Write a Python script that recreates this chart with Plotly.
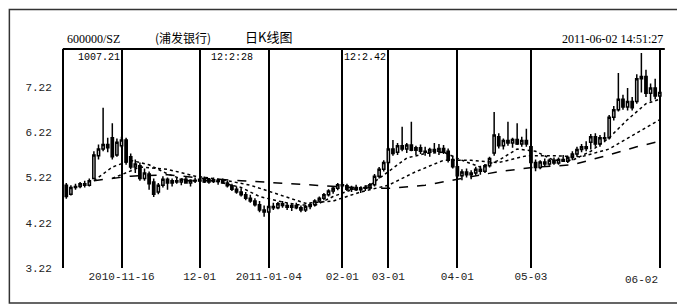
import plotly.graph_objects as go

# ---------------- data ----------------
idx = list(range(130))
opens = [5.05,4.85,5.00,5.02,5.08,5.05,5.20,5.70,5.85,5.95,
         6.10,5.72,5.92,6.05,5.68,5.45,5.48,5.20,5.30,5.12,
         4.90,5.05,5.18,5.10,5.15,5.12,5.18,5.10,5.16,5.14,
         5.18,5.12,5.17,5.13,5.16,5.10,5.04,4.96,4.90,4.84,
         4.76,4.70,4.62,4.50,4.46,4.58,4.55,4.64,4.60,4.56,
         4.60,4.55,4.50,4.58,4.62,4.70,4.76,4.84,4.92,4.98,
         5.06,5.04,4.96,5.00,4.95,4.98,5.00,5.06,5.25,5.40,
         5.55,5.85,5.78,5.92,5.85,5.94,5.82,5.88,5.80,5.78,
         5.84,5.80,5.86,5.80,5.62,5.46,5.26,5.34,5.28,5.32,
         5.40,5.36,5.48,5.76,6.12,5.92,6.04,5.98,6.06,5.96,
         6.04,5.90,5.55,5.44,5.56,5.52,5.60,5.54,5.62,5.58,
         5.66,5.74,5.84,5.90,6.00,6.12,5.96,6.10,6.10,6.55,
         6.72,6.95,6.78,6.90,6.90,7.45,7.45,7.08,7.20,7.02]
highs = [5.10,5.05,5.08,5.12,5.15,5.20,5.80,5.95,6.76,6.10,
         6.42,6.08,6.12,6.10,5.75,5.62,5.55,5.42,5.35,5.20,
         5.10,5.25,5.22,5.20,5.22,5.20,5.24,5.18,5.22,5.20,
         5.24,5.20,5.22,5.20,5.20,5.15,5.08,5.02,4.98,4.90,
         4.84,4.76,4.70,4.60,4.62,4.66,4.68,4.70,4.66,4.64,
         4.66,4.60,4.62,4.66,4.74,4.80,4.88,4.96,5.02,5.10,
         5.12,5.08,5.04,5.06,5.02,5.05,5.10,5.30,5.45,5.60,
         5.90,6.05,5.98,6.34,5.98,6.45,5.92,5.95,5.90,5.88,
         5.98,5.96,5.94,5.86,5.70,5.52,5.40,5.42,5.38,5.46,
         5.48,5.52,5.68,6.67,6.20,6.08,6.45,6.10,6.42,6.12,
         6.30,5.96,5.62,5.60,5.64,5.64,5.66,5.66,5.72,5.70,
         5.80,5.90,5.96,6.02,6.18,6.20,6.16,6.22,6.60,6.80,
         7.53,7.05,7.20,7.00,7.50,7.97,7.60,7.30,7.40,7.25]
lows = [4.75,4.82,4.95,4.98,5.00,5.02,5.18,5.62,5.80,5.78,
        5.62,5.68,5.88,5.50,5.40,5.32,5.15,5.15,4.95,4.79,
        4.85,5.00,4.95,5.02,5.08,5.05,5.08,5.02,5.10,5.06,
        5.10,5.08,5.10,5.06,5.08,5.00,4.92,4.86,4.80,4.72,
        4.66,4.58,4.45,4.35,4.38,4.50,4.52,4.55,4.50,4.48,
        4.52,4.45,4.46,4.52,4.58,4.66,4.72,4.80,4.86,4.94,
        4.98,4.92,4.90,4.92,4.88,4.92,4.96,5.02,5.20,5.35,
        5.50,5.70,5.72,5.80,5.76,5.80,5.72,5.74,5.70,5.68,
        5.76,5.72,5.74,5.55,5.42,5.20,5.16,5.22,5.18,5.26,
        5.28,5.32,5.44,5.70,5.86,5.84,5.92,5.88,5.94,5.90,
        5.90,5.50,5.36,5.40,5.46,5.48,5.50,5.50,5.56,5.54,
        5.60,5.68,5.78,5.80,5.84,5.90,5.90,6.00,6.06,6.48,
        6.68,6.72,6.70,6.70,6.85,7.10,7.00,6.90,6.95,6.85]
closes = [4.80,5.00,5.02,5.08,5.05,5.15,5.72,5.85,5.95,5.88,
          5.68,6.00,6.05,5.56,5.45,5.52,5.20,5.32,5.08,4.85,
          5.05,5.18,5.10,5.15,5.12,5.18,5.10,5.16,5.14,5.18,
          5.12,5.17,5.13,5.16,5.10,5.04,4.96,4.90,4.84,4.76,
          4.70,4.62,4.50,4.46,4.58,4.55,4.64,4.60,4.56,4.60,
          4.55,4.50,4.58,4.62,4.70,4.76,4.84,4.92,4.98,5.06,
          5.04,4.96,5.00,4.95,4.98,5.00,5.06,5.25,5.40,5.55,
          5.85,5.75,5.92,5.85,5.94,5.82,5.88,5.80,5.78,5.84,
          5.80,5.86,5.78,5.60,5.46,5.26,5.34,5.28,5.32,5.40,
          5.36,5.48,5.64,6.16,5.92,6.04,5.98,6.06,5.96,6.04,
          5.96,5.55,5.44,5.56,5.52,5.60,5.54,5.62,5.58,5.66,
          5.74,5.84,5.90,5.86,6.12,5.96,6.10,6.08,6.55,6.72,
          6.95,6.78,6.90,6.76,7.40,7.40,7.08,7.20,7.02,7.10]

ma_short_x = [6,10,14,18,22,26,32,38,42,46,50,54,58,62,66,70,74,78,82,86,90,94,98,102,106,110,114,118,122,126,129]
ma_short_y = [5.15,5.45,5.60,5.50,5.30,5.15,5.15,5.00,4.80,4.70,4.62,4.60,4.80,4.95,5.05,5.35,5.65,5.75,5.78,5.60,5.45,5.60,5.85,5.80,5.60,5.60,5.80,6.10,6.50,6.85,6.95]
ma_mid_x = [10,16,22,28,34,40,46,52,58,64,70,76,82,88,94,100,106,112,118,124,129]
ma_mid_y = [5.20,5.45,5.40,5.25,5.17,5.05,4.85,4.65,4.70,4.90,5.05,5.35,5.60,5.60,5.55,5.70,5.70,5.68,5.85,6.20,6.50]
ma_long_x = [6,14,22,30,38,46,54,62,70,78,86,94,102,110,118,124,129]
ma_long_y = [5.15,5.25,5.28,5.20,5.15,5.10,5.05,5.00,4.98,5.05,5.20,5.35,5.45,5.50,5.72,5.90,6.02]

month_idx = [12, 29, 44, 60, 70, 85, 101, 129]
month_labels = ["2010-11-16", "12-01", "2011-01-04", "02-01", "03-01", "04-01", "05-03", "06-02"]
y_ticks = [3.22, 4.22, 5.22, 6.22, 7.22]
y_labels = ["3.22", "4.22", "5.22", "6.22", "7.22"]
top_notes_x = [12, 41, 70]
top_notes = ["1007.21", "12:2:28", "12:2.42"]
header_code = "600000/SZ"
header_name = "(浦发银行)"
header_title = "日K线图"
header_time = "2011-06-02 14:51:27"

# ---------------- figure ----------------
fig = go.Figure()
fig.add_trace(go.Candlestick(
    x=idx, open=opens, high=highs, low=lows, close=closes,
    increasing=dict(line=dict(color="black", width=1.5), fillcolor="white"),
    decreasing=dict(line=dict(color="black", width=1.5), fillcolor="black"),
    whiskerwidth=0, showlegend=False, hoverinfo="skip"))
fig.add_trace(go.Scatter(x=ma_short_x, y=ma_short_y, mode="lines",
                         line=dict(color="black", width=1.5, dash="dot"), showlegend=False))
fig.add_trace(go.Scatter(x=ma_mid_x, y=ma_mid_y, mode="lines",
                         line=dict(color="black", width=1.5, dash="dot"), showlegend=False))
fig.add_trace(go.Scatter(x=ma_long_x, y=ma_long_y, mode="lines",
                         line=dict(color="black", width=1.5, dash="dash"), showlegend=False))

font_mono = "Liberation Mono"
tick_text = month_labels[:-1] + [""]
fig.update_layout(
    width=677, height=300,
    margin=dict(l=56, r=22, t=41, b=40),
    paper_bgcolor="white", plot_bgcolor="white",
    xaxis=dict(range=[-0.5, 129.7], tickvals=month_idx, ticktext=tick_text,
               showgrid=True, gridcolor="black", gridwidth=2, zeroline=False,
               showline=False, ticks="", rangeslider=dict(visible=False),
               tickfont=dict(family=font_mono, size=11, color="#222")),
    yaxis=dict(range=[3.22, 8.06], tickvals=y_ticks, ticktext=y_labels,
               showgrid=False, zeroline=False, showline=True, linecolor="black",
               linewidth=2, ticks="", ticklabelstandoff=8,
               tickfont=dict(family=font_mono, size=11, color="#222")),
)
fig.add_annotation(text=month_labels[-1], x=month_idx[-1], xref="x", yref="paper", y=-0.02,
                   xanchor="right", yanchor="top", showarrow=False,
                   font=dict(family=font_mono, size=11, color="#222"))

# header line and outer frame
fig.add_shape(type="line", xref="paper", yref="paper", x0=-0.002, x1=1.003, y0=1, y1=1,
              line=dict(color="black", width=2))
fig.add_shape(type="rect", xref="paper", yref="paper", x0=-0.0912, x1=1.0300, y0=-0.160, y1=1.1800,
              line=dict(color="#333", width=1.5))

hdr = dict(family="Liberation Serif", size=12, color="black")
fig.add_annotation(text=header_code, xref="paper", yref="paper", x=0.002, y=1.005,
                   xanchor="left", yanchor="bottom", showarrow=False, font=hdr)
fig.add_annotation(text=header_name, xref="paper", yref="paper", x=0.148, y=1.005,
                   xanchor="left", yanchor="bottom", showarrow=False,
                   font=dict(family="Noto Sans CJK SC", size=12, color="black"))
fig.add_annotation(text=header_title, xref="paper", yref="paper", x=0.298, y=1.005,
                   xanchor="left", yanchor="bottom", showarrow=False,
                   font=dict(family="Noto Sans CJK SC", size=13, color="black"))
fig.add_annotation(text=header_time, xref="paper", yref="paper", x=1.003, y=1.005,
                   xanchor="right", yanchor="bottom", showarrow=False, font=hdr)
for nx, nt in zip(top_notes_x, top_notes):
    fig.add_annotation(text=nt, x=nx, xref="x", yref="paper", y=0.995,
                       xanchor="right", yanchor="top", showarrow=False,
                       font=dict(family=font_mono, size=10, color="black"))

fig.write_html("out.html")
